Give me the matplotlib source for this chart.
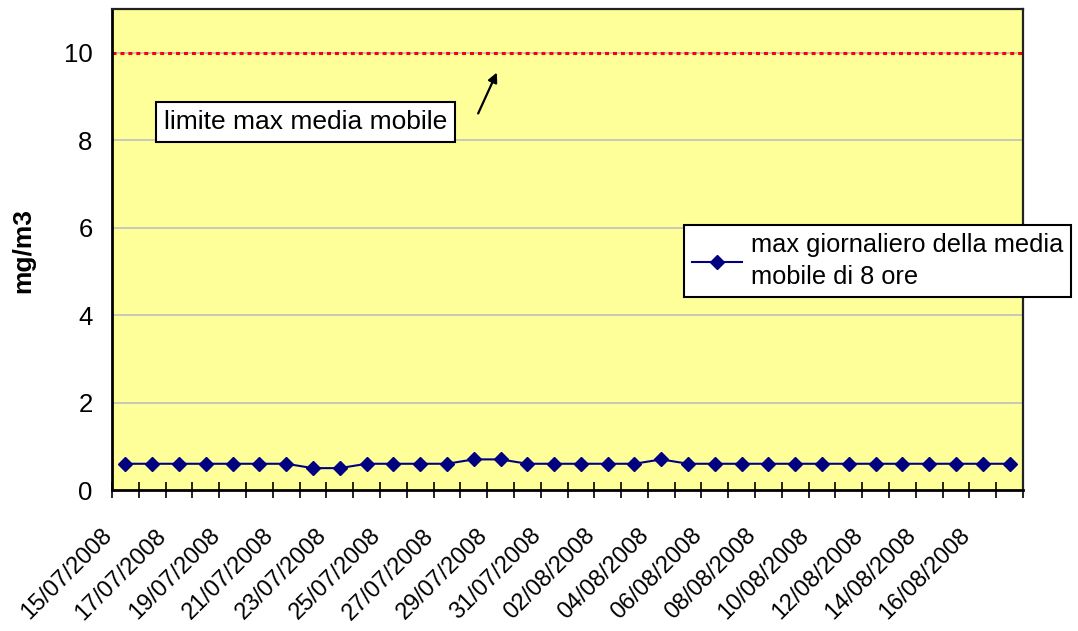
import matplotlib
matplotlib.use("Agg")
import matplotlib.pyplot as plt
import matplotlib.transforms as mtransforms
import numpy as np

plt.rcParams['font.family'] = ['Liberation Sans', 'DejaVu Sans']

dates = ["15/07/2008", "16/07/2008", "17/07/2008", "18/07/2008", "19/07/2008",
         "20/07/2008", "21/07/2008", "22/07/2008", "23/07/2008", "24/07/2008",
         "25/07/2008", "26/07/2008", "27/07/2008", "28/07/2008", "29/07/2008",
         "30/07/2008", "31/07/2008", "01/08/2008", "02/08/2008", "03/08/2008",
         "04/08/2008", "05/08/2008", "06/08/2008", "07/08/2008", "08/08/2008",
         "09/08/2008", "10/08/2008", "11/08/2008", "12/08/2008", "13/08/2008",
         "14/08/2008", "15/08/2008", "16/08/2008", "17/08/2008"]
values = [0.6, 0.6, 0.6, 0.6, 0.6, 0.6, 0.6, 0.5, 0.5, 0.6,
          0.6, 0.6, 0.6, 0.7, 0.7, 0.6, 0.6, 0.6, 0.6, 0.6,
          0.7, 0.6, 0.6, 0.6, 0.6, 0.6, 0.6, 0.6, 0.6, 0.6,
          0.6, 0.6, 0.6, 0.6]
limit_value = 10
yticks = [0, 2, 4, 6, 8, 10]
series_label = "max giornaliero della media\nmobile di 8 ore"
limit_label = "limite max media mobile"
ylabel = "mg/m3"

W, H = 1078, 631
fig = plt.figure(figsize=(W / 100, H / 100), dpi=100)
L, R, T, B = 112, 1023, 9, 490
ax = fig.add_axes([L / W, 1 - B / H, (R - L) / W, (B - T) / H])
ax.set_facecolor('#FFFF99')

x = np.arange(len(dates))
ax.set_xlim(-0.5, len(dates) - 0.5)
ax.set_ylim(0, 11)

for yv in yticks[1:]:
    ax.axhline(yv, color='#BFBFBF', lw=1.2, zorder=1)

ax.axhline(limit_value, color='#FF0000', lw=2.2, linestyle=(0, (1.3, 1.3)), zorder=2)

ax.plot(x, values, color='#000080', lw=1.5, marker='D', ms=7.5,
        markerfacecolor='#000080', markeredgecolor='#000080', zorder=3,
        label=series_label)

ax.set_yticks(yticks)
ax.set_yticklabels([str(v) for v in yticks], fontsize=18.5)
ax.tick_params(axis='y', length=0, pad=14)

ax.set_xticks(x[::2])
ax.set_xticklabels(dates[::2], rotation=45, ha='right', va='top',
                   rotation_mode='anchor', fontsize=17)
ax.set_xticks(np.arange(-0.5, len(dates), 1), minor=True)
ax.tick_params(axis='x', which='major', length=0, pad=25)
ax.tick_params(axis='x', which='minor', direction='inout', length=12, width=1.2)
offset = mtransforms.ScaledTranslation(-0.24, 0, fig.dpi_scale_trans)
for lbl in ax.get_xticklabels():
    lbl.set_transform(lbl.get_transform() + offset)

for s in ['left', 'bottom']:
    ax.spines[s].set_linewidth(2)
    ax.spines[s].set_color('black')
for s in ['top', 'right']:
    ax.spines[s].set_linewidth(1.6)
    ax.spines[s].set_color('#222222')

fig.text(23 / W, 1 - 250 / H, ylabel, rotation=90, fontsize=19, fontweight='bold',
         ha='center', va='center')

leg = ax.legend(loc='upper left', bbox_to_anchor=(684 / W, 1 - 225 / H),
                bbox_transform=fig.transFigure, fontsize=18.3, frameon=True,
                fancybox=False, borderpad=0.3, handlelength=2.0,
                handletextpad=0.35, borderaxespad=0)
for t in leg.get_texts():
    t.set_linespacing(1.45)
leg.get_frame().set_edgecolor('black')
leg.get_frame().set_linewidth(1.5)
leg.get_frame().set_facecolor('white')
leg.get_frame().set_alpha(1)

fig.text(164 / W, 1 - 122 / H, limit_label, fontsize=19, ha='left', va='center',
         bbox=dict(boxstyle='square,pad=0.3', facecolor='white', edgecolor='black', lw=1.5))

ax.annotate('', xy=(498, H - 70), xycoords='figure pixels',
            xytext=(477, H - 116), textcoords='figure pixels',
            arrowprops=dict(arrowstyle='-|>', color='black', lw=1.6, mutation_scale=14))

fig.savefig('out.png', dpi=100)
